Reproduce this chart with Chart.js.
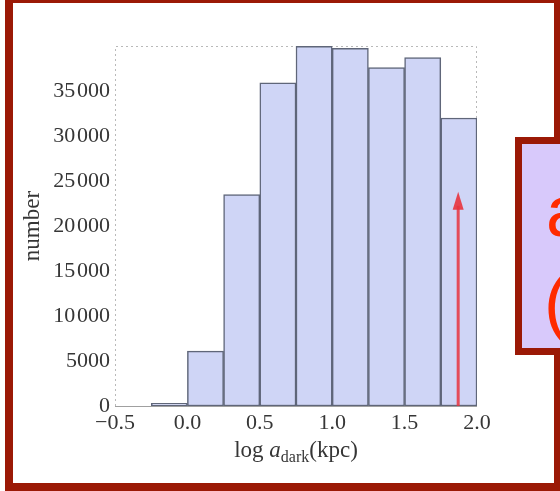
<!DOCTYPE html>
<html>
<head>
<meta charset="utf-8">
<script src="https://cdn.jsdelivr.net/npm/chart.js@4"></script>
<style>
  html, body { margin:0; padding:0; background:#fff; overflow:hidden; }
  #wrap { position:relative; width:560px; height:491px; overflow:hidden; }
  #c { position:absolute; left:0; top:0; }
  .frame { position:absolute; left:5px; top:-5px; width:557px; height:496px; box-sizing:border-box; border:8px solid #9b1906; }
  .callout { position:absolute; left:515px; top:137px; width:70px; height:218px; box-sizing:border-box;
             border:7px solid #9b1906; background:#d8c9fb; }
  .callout-txt { position:absolute; font-family:"Liberation Sans", Arial, sans-serif; font-size:72px; line-height:1; color:#ff2a00; }
</style>
</head>
<body>
<div id="wrap">
  <canvas id="c" width="560" height="491"></canvas>
  <div class="frame"></div>
  <div class="callout"></div>
  <div class="callout-txt" style="left:546px; top:175px;">a</div>
  <div class="callout-txt" style="left:544px; top:266px;">(</div>
</div>
<script>
// histogram bins (log a_dark in kpc) and counts per bin
const binStarts = [-0.25, 0.0, 0.25, 0.5, 0.75, 1.0, 1.25, 1.5, 1.75];
const counts    = [300, 6100, 23500, 35900, 39950, 39750, 37600, 38700, 32000];
const binWidth  = 0.25;

const xTicks = [-0.5, 0.0, 0.5, 1.0, 1.5, 2.0];
const yTicks = [0, 5000, 10000, 15000, 20000, 25000, 30000, 35000];

// marker arrow
const arrowAt  = 1.87;
const arrowTop = 23800;

const serif = '"Liberation Serif", "Times New Roman", serif';
const inkColor = '#363636';

function fmtCount(v){
  if (v < 10000) return String(v);
  const s = String(v);
  return s.slice(0, s.length - 3) + '\u200A' + s.slice(-3);
}
function fmtLog(v){
  const s = Math.abs(v).toFixed(1);
  return v < 0 ? '\u2212' + s : s;
}

// dotted frame round the plot + solid baseline
const framePlugin = {
  id: 'frame',
  beforeDatasetsDraw(chart){
    const { ctx, chartArea: a, scales } = chart;
    const y0 = scales.y.getPixelForValue(0);
    ctx.save();
    ctx.strokeStyle = '#b9b9b9';
    ctx.lineWidth = 1;
    ctx.setLineDash([2, 3]);
    ctx.beginPath();
    ctx.moveTo(a.left + 0.5, a.bottom);
    ctx.lineTo(a.left + 0.5, a.top + 0.5);
    ctx.lineTo(a.right - 0.5, a.top + 0.5);
    ctx.lineTo(a.right - 0.5, a.bottom);
    ctx.stroke();
    ctx.setLineDash([]);
    ctx.strokeStyle = '#a0a0a0';
    ctx.beginPath();
    ctx.moveTo(a.left, y0 + 0.5);
    ctx.lineTo(a.right, y0 + 0.5);
    ctx.stroke();
    ctx.restore();
  }
};

// red arrow + axis titles
const annotPlugin = {
  id: 'annot',
  afterDatasetsDraw(chart){
    const { ctx, chartArea: a, scales } = chart;
    const x = scales.x.getPixelForValue(arrowAt);
    const yBase = scales.y.getPixelForValue(0);
    const yTip = scales.y.getPixelForValue(arrowTop);
    ctx.save();
    ctx.strokeStyle = 'rgba(232,52,62,0.85)';
    ctx.fillStyle = 'rgba(232,52,62,0.9)';
    ctx.lineWidth = 3;
    ctx.beginPath();
    ctx.moveTo(x, yBase);
    ctx.lineTo(x, yTip + 14);
    ctx.stroke();
    ctx.beginPath();
    ctx.moveTo(x, yTip);
    ctx.lineTo(x - 5.5, yTip + 18);
    ctx.lineTo(x + 5.5, yTip + 18);
    ctx.closePath();
    ctx.fill();
    ctx.restore();

    // y title
    ctx.save();
    ctx.fillStyle = inkColor;
    ctx.font = '23px ' + serif;
    ctx.textAlign = 'center';
    ctx.textBaseline = 'middle';
    ctx.translate(33, (a.top + a.bottom) / 2);
    ctx.rotate(-Math.PI / 2);
    ctx.fillText('number', 0, 0);
    ctx.restore();

    // x title: log a_dark(kpc)
    const parts = [
      { t: 'log ', f: '23px ' + serif, dy: 0 },
      { t: 'a', f: 'italic 23px ' + serif, dy: 0 },
      { t: 'dark', f: '16px ' + serif, dy: 5 },
      { t: '(kpc)', f: '23px ' + serif, dy: 0 }
    ];
    ctx.save();
    ctx.fillStyle = inkColor;
    ctx.textBaseline = 'alphabetic';
    let total = 0;
    parts.forEach(p => { ctx.font = p.f; p.w = ctx.measureText(p.t).width; total += p.w; });
    let cx = (a.left + a.right) / 2 - total / 2;
    const base = 457;
    parts.forEach(p => { ctx.font = p.f; ctx.fillText(p.t, cx, base + p.dy); cx += p.w; });
    ctx.restore();
  }
};

const data = binStarts.map((s, i) => ({ x: s + binWidth / 2, y: counts[i] }));

new Chart(document.getElementById('c'), {
  type: 'bar',
  data: {
    datasets: [{
      data,
      backgroundColor: '#cfd5f6',
      borderColor: '#5f6679',
      borderWidth: 1.5,
      borderSkipped: false,
      barPercentage: 1,
      categoryPercentage: 1,
      grouped: false
    }]
  },
  options: {
    responsive: false,
    animation: false,
    layout: { padding: { top: 46, right: 83, left: 0, bottom: 0 } },
    plugins: { legend: { display: false }, tooltip: { enabled: false } },
    scales: {
      x: {
        type: 'linear',
        offset: false,
        min: -0.5, max: 2.0,
        afterBuildTicks: s => { s.ticks = xTicks.map(v => ({ value: v })); },
        afterFit: s => { s.height = 85; },
        grid: { display: false, drawTicks: false },
        border: { display: false },
        ticks: { color: inkColor, font: { family: serif, size: 22 }, padding: 4, maxRotation: 0,
                 callback: v => fmtLog(v) }
      },
      y: {
        min: 0, max: 40000,
        afterBuildTicks: s => { s.ticks = yTicks.map(v => ({ value: v })); },
        afterFit: s => { s.width = 115; },
        grid: { display: false, drawTicks: false },
        border: { display: false },
        ticks: { color: inkColor, font: { family: serif, size: 22 }, padding: 5,
                 callback: v => fmtCount(v) }
      }
    }
  },
  plugins: [framePlugin, annotPlugin]
});
</script>
</body>
</html>
